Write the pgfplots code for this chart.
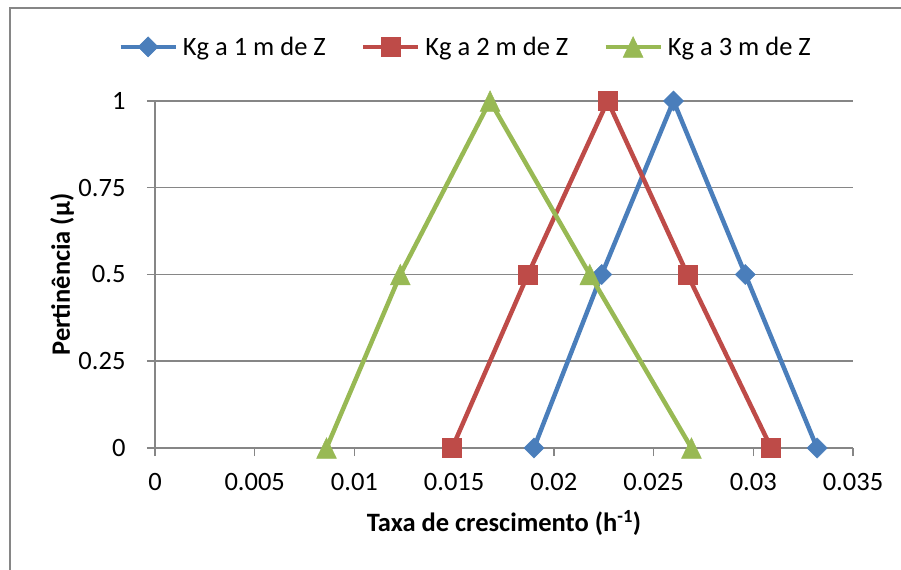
\documentclass[border=0pt]{standalone}
\usepackage{pgfplots}
\pgfplotsset{compat=1.18}
\usepackage{fontspec}
\setmainfont{Carlito}
\definecolor{sblue}{HTML}{4A7EBB}
\definecolor{sred}{HTML}{BE4B48}
\definecolor{sgreen}{HTML}{98B954}
\definecolor{gridc}{HTML}{868686}
\begin{document}
\begin{tikzpicture}[font=\fontsize{26.5bp}{32bp}\selectfont]
\useasboundingbox (0,0) rectangle (901bp,570bp);
\draw[gridc, line width=1.5bp] (10bp,0) -- (10bp,562bp) -- (901bp,562bp);
\begin{axis}[
  at={(155bp,122bp)}, anchor=south west,
  scale only axis, width=698bp, height=347bp,
  xmin=0, xmax=0.035, ymin=0, ymax=1,
  scaled x ticks=false, scaled y ticks=false,
  axis x line=bottom, axis y line=left,
  axis line style={gridc, line width=1.5bp, -},
  xtick={0,0.005,0.01,0.015,0.02,0.025,0.03,0.035},
  xticklabels={0,0.005,0.01,0.015,0.02,0.025,0.03,0.035},
  ytick={0,0.25,0.5,0.75,1},
  yticklabels={0,0.25,0.5,0.75,1},
  xticklabel style={yshift=-14bp},
  yticklabel style={xshift=-18bp},
  tick align=outside, major tick length=8bp,
  tick style={gridc, line width=1.5bp},
  ymajorgrids, major grid style={gridc, line width=1.5bp},
  clip=false,
  xlabel={\textbf{Taxa de crescimento (h\textsuperscript{-1})}},
  ylabel={\textbf{Pertinência (μ)}},
  xlabel style={at={(axis description cs:0.5,-0.216)}, anchor=center},
  ylabel style={at={(axis description cs:-0.133,0.5)}, anchor=center},
  legend columns=3,
  legend style={at={(0.445,1.156)}, anchor=center, draw=none, fill=none,
    /tikz/every odd column/.append style={column sep=3bp},
    /tikz/every even column/.append style={column sep=33bp}},
  legend image code/.code={\draw[#1, mark repeat=2, mark phase=2] plot coordinates {(0bp,0bp) (27.5bp,0bp) (55bp,0bp)};},
]
\addplot[sblue, line width=4.5bp, mark=square*, mark size=7.1bp, mark options={rotate=45, line width=0.5bp}]
  coordinates {(0.0190,0) (0.0224,0.5) (0.0260,1) (0.0296,0.5) (0.0332,0)};
\addlegendentry{Kg a 1 m de Z}
\addplot[sred, line width=4.5bp, mark=square*, mark size=9.5bp, mark options={line width=0.5bp}]
  coordinates {(0.0149,0) (0.0187,0.5) (0.0227,1) (0.0267,0.5) (0.0309,0)};
\addlegendentry{Kg a 2 m de Z}
\addplot[sgreen, line width=4.5bp, mark=triangle*, mark size=11.5bp, mark options={yscale=1.2, yshift=-3bp, line width=0.5bp}]
  coordinates {(0.0086,0) (0.0123,0.5) (0.0168,1) (0.0218,0.5) (0.0269,0)};
\addlegendentry{Kg a 3 m de Z}
\end{axis}
\end{tikzpicture}
\end{document}
